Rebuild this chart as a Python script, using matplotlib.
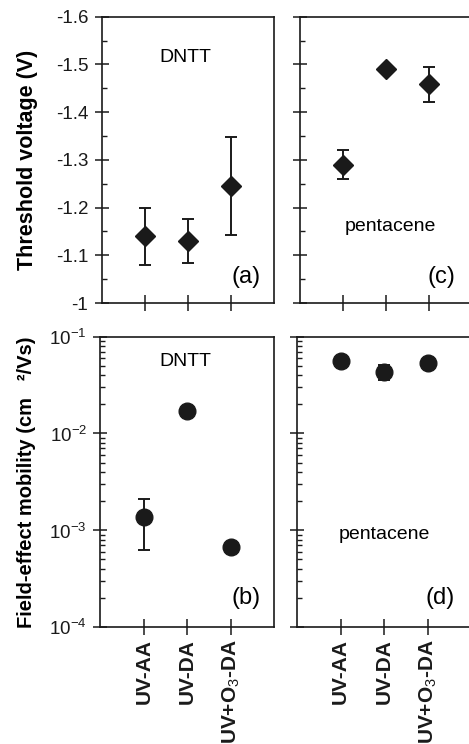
import numpy as np
import matplotlib.pyplot as plt
from matplotlib.ticker import MultipleLocator, LogLocator, NullFormatter, FixedLocator

plt.rcParams['font.family'] = ['Liberation Sans', 'DejaVu Sans']
plt.rcParams['mathtext.fontset'] = 'custom'
plt.rcParams['mathtext.rm'] = 'Liberation Sans'
plt.rcParams['mathtext.bf'] = 'Liberation Sans:bold'

# treatments (x categories)
treatments = ['UV-AA', 'UV-DA', r'UV+O$_3$-DA']

# threshold voltage (V), mean and error
vth_dntt = [-1.14, -1.13, -1.245]
vth_dntt_err = [0.06, 0.047, 0.102]
vth_pent = [-1.29, -1.49, -1.458]
vth_pent_err = [0.03, 0.0, 0.036]

# field-effect mobility (cm^2/Vs): mean, lower/upper error
mu_dntt = [1.37e-3, 1.69e-2, 6.7e-4]
mu_dntt_lo = [7.5e-4, 0.0, 0.0]
mu_dntt_hi = [7.5e-4, 0.0, 0.0]
mu_pent = [5.6e-2, 4.34e-2, 5.3e-2]
mu_pent_lo = [0.0, 7.5e-3, 0.0]
mu_pent_hi = [0.0, 7.5e-3, 0.0]

x = np.arange(1, len(treatments) + 1)

fig = plt.figure(figsize=(4.69, 7.44), dpi=100)
ax_a = fig.add_axes([0.2168, 0.5927, 0.3674, 0.3849])
ax_c = fig.add_axes([0.6397, 0.5927, 0.3667, 0.3849])
ax_b = fig.add_axes([0.2140, 0.1573, 0.3710, 0.3901])
ax_d = fig.add_axes([0.6330, 0.1573, 0.3730, 0.3901])

eb_kw = dict(color='#1a1a1a', ecolor='#1a1a1a', elinewidth=1.4, capsize=4.5, capthick=1.4, linestyle='none')

# threshold voltage panels
ax_a.errorbar(x, vth_dntt, yerr=vth_dntt_err, fmt='D', markersize=10.5, **eb_kw)
ax_c.errorbar(x, vth_pent, yerr=vth_pent_err, fmt='D', markersize=10.5, **eb_kw)

# mobility panels
ax_b.errorbar(x, mu_dntt, yerr=[mu_dntt_lo, mu_dntt_hi], fmt='o', markersize=12, **eb_kw)
ax_d.errorbar(x, mu_pent, yerr=[mu_pent_lo, mu_pent_hi], fmt='o', markersize=12, **eb_kw)

for ax in (ax_a, ax_c):
    ax.set_ylim(-1.0, -1.6)
    ax.yaxis.set_major_locator(MultipleLocator(0.1))
    ax.yaxis.set_minor_locator(MultipleLocator(0.05))

for ax in (ax_b, ax_d):
    ax.set_yscale('log')
    ax.set_ylim(1e-4, 1e-1)
    ax.yaxis.set_major_locator(FixedLocator([1e-4, 1e-3, 1e-2, 1e-1]))
    ax.yaxis.set_minor_locator(LogLocator(base=10, subs=np.arange(2, 10)))
    ax.yaxis.set_minor_formatter(NullFormatter())

for ax in (ax_a, ax_b, ax_c, ax_d):
    ax.set_xlim(0, 4)
    ax.set_xticks(x)
    for s in ax.spines.values():
        s.set_linewidth(1.2)
        s.set_color('#1a1a1a')
    ax.tick_params(which='major', direction='inout', length=9.5, width=1.1, colors='#1a1a1a',
                   labelsize=13.5, pad=5)
    ax.tick_params(which='minor', direction='in', length=3.8, width=1.0, colors='#1a1a1a')
    ax.tick_params(axis='x', which='major', length=11, pad=3)

ax_a.set_yticks(np.arange(-1.6, -0.95, 0.1))
ax_a.set_yticklabels(['-1.6', '-1.5', '-1.4', '-1.3', '-1.2', '-1.1', '-1'])
ax_b.set_yticklabels([r'10$^{-4}$', r'10$^{-3}$', r'10$^{-2}$', r'10$^{-1}$'])

for ax in (ax_c, ax_d):
    ax.tick_params(axis='y', labelleft=False)
for ax in (ax_a, ax_c):
    ax.tick_params(axis='x', labelbottom=False)
for ax in (ax_b, ax_d):
    ax.set_xticklabels(treatments, rotation=90, fontweight='bold', fontsize=15)

ax_a.set_ylabel('Threshold voltage (V)', fontweight='bold', fontsize=15.5)
ax_b.set_ylabel('Field-effect mobility (cm   ²/Vs)', fontweight='bold', fontsize=14.5)
ax_a.yaxis.set_label_coords(-0.37, 0.5)
ax_b.yaxis.set_label_coords(-0.37, 0.5)

ax_a.text(1.95, -1.515, 'DNTT', ha='center', va='center', fontsize=14)
ax_b.text(1.95, 10 ** -1.26, 'DNTT', ha='center', va='center', fontsize=14)
ax_c.text(2.09, -1.16, 'pentacene', ha='center', va='center', fontsize=14)
ax_d.text(2.0, 10 ** -3.04, 'pentacene', ha='center', va='center', fontsize=14)

ax_a.text(0.84, 0.092, '(a)', transform=ax_a.transAxes, ha='center', va='center', fontsize=17)
ax_b.text(0.84, 0.10, '(b)', transform=ax_b.transAxes, ha='center', va='center', fontsize=17)
ax_c.text(0.82, 0.092, '(c)', transform=ax_c.transAxes, ha='center', va='center', fontsize=17)
ax_d.text(0.82, 0.10, '(d)', transform=ax_d.transAxes, ha='center', va='center', fontsize=17)

fig.savefig('out.png', dpi=100)
